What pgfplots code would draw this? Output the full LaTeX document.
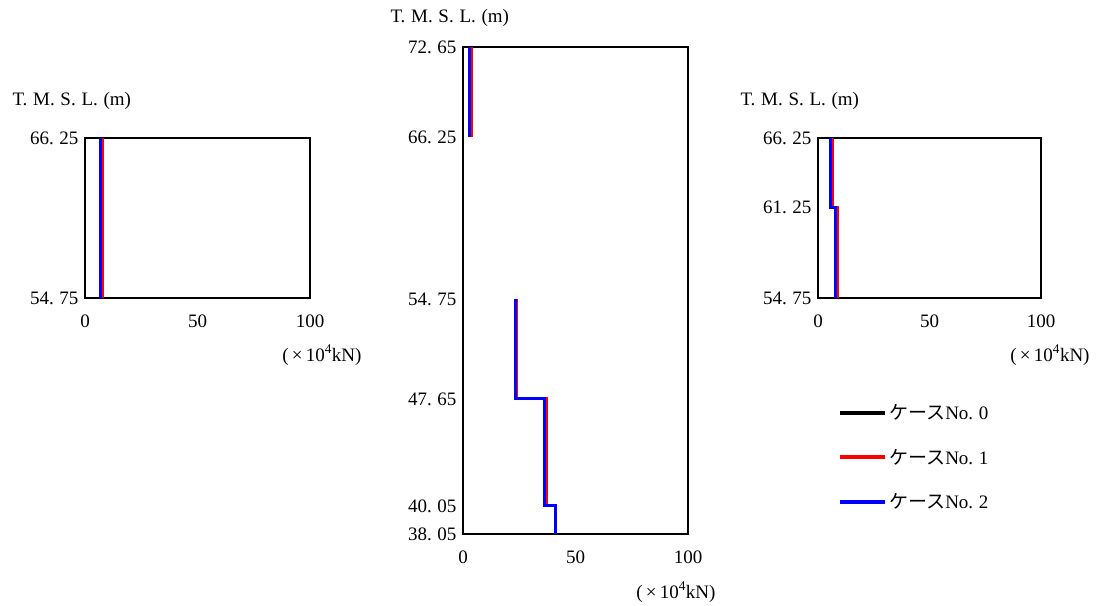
\documentclass[border=0pt]{standalone}
\usepackage{fontspec}
\setmainfont{Liberation Serif}
\newfontfamily\cjk{Noto Sans CJK JP}
\usepackage{pgfplots}
\pgfplotsset{compat=1.18}
\definecolor{cred}{RGB}{255,0,0}
\definecolor{cblue}{RGB}{0,0,255}
\newcommand{\fs}{\fontsize{19bp}{22bp}\selectfont}
\newcommand{\p}{.\hspace{0.3em}}
\pgfplotsset{
  panel/.style={
    scale only axis, anchor=south west,
    xmin=0, xmax=100, xtick={0,50,100}, xticklabels={0,50,100},
    major tick length=0pt,
    axis line style={line width=1.2bp},
    tick label style={font=\fs},
    yticklabel style={xshift=-3bp},
    xticklabel style={yshift=-13bp},
    every axis y label/.style={at={(rel axis cs:0,1)}, anchor=west, font=\fs},
    every axis x label/.style={at={(rel axis cs:1,0)}, anchor=center, font=\fs},
    ylabel={T\p M\p S\p L\p (m)},
    xlabel={(\,×\,10\textsuperscript{4}kN)},
    unbounded coords=jump,
    clip=false,
  },
  s0/.style={black, line width=3bp},
  s1/.style={cred, line width=3bp},
  s2/.style={cblue, line width=3bp},
}
\begin{document}
\begin{tikzpicture}
\useasboundingbox (0bp,0bp) rectangle (1097bp,606bp);
% left panel
\begin{axis}[panel, at={(85bp,308bp)}, width=225bp, height=160bp,
  ymin=54.75, ymax=66.25, ytick={54.75,66.25}, yticklabels={54\p 75,66\p 25},
  ylabel style={xshift=-76bp, yshift=37bp},
  xlabel style={xshift=12bp, yshift=-57bp}]
\addplot[s0] coordinates {(6.8,66.25) (6.8,54.75)};
\addplot[s1] coordinates {(7.6,66.25) (7.6,54.75)};
\addplot[s2] coordinates {(6.8,66.25) (6.8,54.75)};
\end{axis}
% middle panel
\begin{axis}[panel, at={(463bp,72bp)}, width=225bp, height=487bp,
  ymin=38.05, ymax=72.65, ytick={38.05,40.05,47.65,54.75,66.25,72.65},
  yticklabels={38\p 05,40\p 05,47\p 65,54\p 75,66\p 25,72\p 65},
  ylabel style={xshift=-76bp, yshift=29bp},
  xlabel style={xshift=-12bp, yshift=-58bp}]
\addplot[s0] coordinates {(3.0,72.65) (3.0,66.25) (nan,nan) (23.5,54.75) (23.5,47.65) (36.4,47.65) (36.4,40.05) (40.9,40.05) (40.9,38.05)};
\addplot[s1] coordinates {(3.7,72.65) (3.7,66.25) (nan,nan) (23.9,54.75) (23.9,47.65) (37.2,47.65) (37.2,40.05) (41.0,40.05) (41.0,38.05)};
\addplot[s2] coordinates {(3.0,72.65) (3.0,66.25) (nan,nan) (23.5,54.75) (23.5,47.65) (36.4,47.65) (36.4,40.05) (40.9,40.05) (40.9,38.05)};
\end{axis}
% right panel
\begin{axis}[panel, at={(818bp,308bp)}, width=223bp, height=160bp,
  ymin=54.75, ymax=66.25, ytick={54.75,61.25,66.25}, yticklabels={54\p 75,61\p 25,66\p 25},
  ylabel style={xshift=-81bp, yshift=37bp},
  xlabel style={xshift=9bp, yshift=-57bp},
  legend style={at={(axis description cs:0.0897,-0.652)}, anchor=north west, draw=none, fill=none,
    inner sep=0pt, row sep=24bp, font=\fs, nodes={inner sep=2bp}},
  legend cell align=left,
  legend image code/.code={\draw[#1, line width=4bp] (0bp,0bp) -- (45bp,0bp);}]
\addplot[s0] coordinates {(5.8,66.25) (5.8,61.25) (8.0,61.25) (8.0,54.75)};
\addplot[s1] coordinates {(6.6,66.25) (6.6,61.25) (8.8,61.25) (8.8,54.75)};
\addplot[s2] coordinates {(5.8,66.25) (5.8,61.25) (8.0,61.25) (8.0,54.75)};
\legend{{\cjk ケース}No\p 0, {\cjk ケース}No\p 1, {\cjk ケース}No\p 2}
\end{axis}
\end{tikzpicture}
\end{document}
